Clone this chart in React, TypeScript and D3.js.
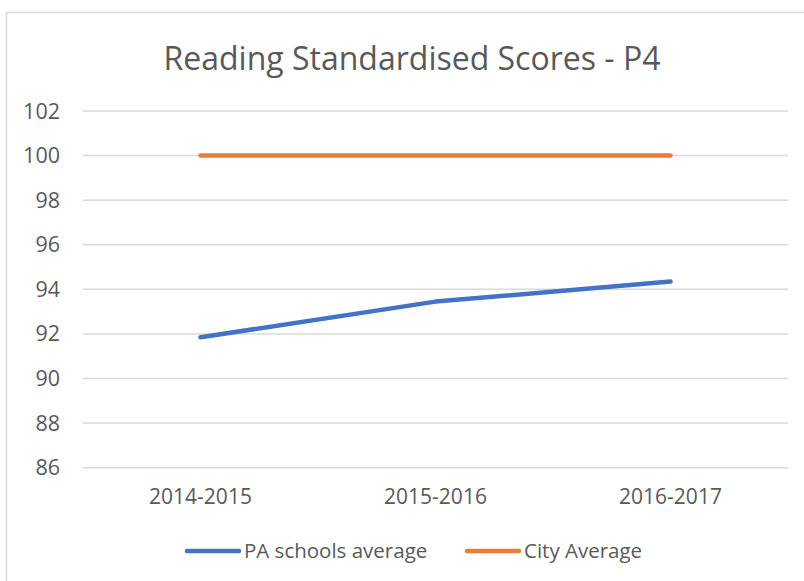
import { useEffect, useRef } from "react";
import * as d3 from "d3";

const years = ["2014-2015", "2015-2016", "2016-2017"];
const paSchools = [91.85, 93.45, 94.35];
const cityAverage = [100, 100, 100];
const yTicks = [86, 88, 90, 92, 94, 96, 98, 100, 102];

const series = [
  { name: "PA schools average", values: paSchools, color: "#4472C4" },
  { name: "City Average", values: cityAverage, color: "#ED7D31" },
];

export default function App() {
  const ref = useRef<SVGSVGElement>(null);

  useEffect(() => {
    const width = 804;
    const height = 581;
    const font = "'Open Sans', Carlito, sans-serif";
    const svg = d3.select(ref.current);
    svg.selectAll("*").remove();

    // outer chart border
    svg.append("rect")
      .attr("x", 6.5)
      .attr("y", 12.5)
      .attr("width", width + 10)
      .attr("height", height + 10)
      .attr("fill", "#fff")
      .attr("stroke", "#d9d9d9")
      .attr("stroke-width", 1.5);

    // scales
    const x = d3.scaleBand().domain(years).range([83, 788]);
    const y = d3.scaleLinear().domain([86, 102]).range([467.7, 111]);

    // gridlines
    svg.append("g")
      .selectAll("line")
      .data(yTicks)
      .enter()
      .append("line")
      .attr("x1", 83)
      .attr("x2", 788)
      .attr("y1", (d) => y(d))
      .attr("y2", (d) => y(d))
      .attr("stroke", "#d9d9d9")
      .attr("stroke-width", 1.5);

    // y labels
    svg.append("g")
      .selectAll("text")
      .data(yTicks)
      .enter()
      .append("text")
      .attr("x", 60)
      .attr("y", (d) => y(d))
      .attr("dy", "0.35em")
      .attr("text-anchor", "end")
      .attr("font-family", font)
      .attr("font-size", 21.5)
      .attr("fill", "#595959")
      .text((d) => d);

    // x labels
    svg.append("g")
      .selectAll("text")
      .data(years)
      .enter()
      .append("text")
      .attr("x", (d) => x(d)! + x.bandwidth() / 2)
      .attr("y", 504)
      .attr("text-anchor", "middle")
      .attr("font-family", font)
      .attr("font-size", 21)
      .attr("fill", "#595959")
      .text((d) => d);

    // title
    svg.append("text")
      .attr("x", 412)
      .attr("y", 70)
      .attr("text-anchor", "middle")
      .attr("font-family", font)
      .attr("font-size", 32)
      .attr("fill", "#595959")
      .text("Reading Standardised Scores - P4");

    // lines
    const line = d3.line<number>()
      .x((_, i) => x(years[i])! + x.bandwidth() / 2)
      .y((d) => y(d));

    series.forEach((s) => {
      svg.append("path")
        .datum(s.values)
        .attr("d", line)
        .attr("fill", "none")
        .attr("stroke", s.color)
        .attr("stroke-width", 4.5)
        .attr("stroke-linecap", "round")
        .attr("stroke-linejoin", "round");
    });

    // legend
    const legendX = [187, 467];
    const legend = svg.append("g");
    series.forEach((s, i) => {
      legend.append("line")
        .attr("x1", legendX[i])
        .attr("x2", legendX[i] + 52)
        .attr("y1", 551)
        .attr("y2", 551)
        .attr("stroke", s.color)
        .attr("stroke-width", 4.5)
        .attr("stroke-linecap", "round");
      legend.append("text")
        .attr("x", legendX[i] + 57)
        .attr("y", 551)
        .attr("dy", "0.35em")
        .attr("font-family", font)
        .attr("font-size", 20.5)
        .attr("fill", "#595959")
        .text(s.name);
    });
  }, []);

  return (
    <svg
      ref={ref}
      width={804}
      height={581}
      style={{ position: "absolute", left: 0, top: 0 }}
    />
  );
}
